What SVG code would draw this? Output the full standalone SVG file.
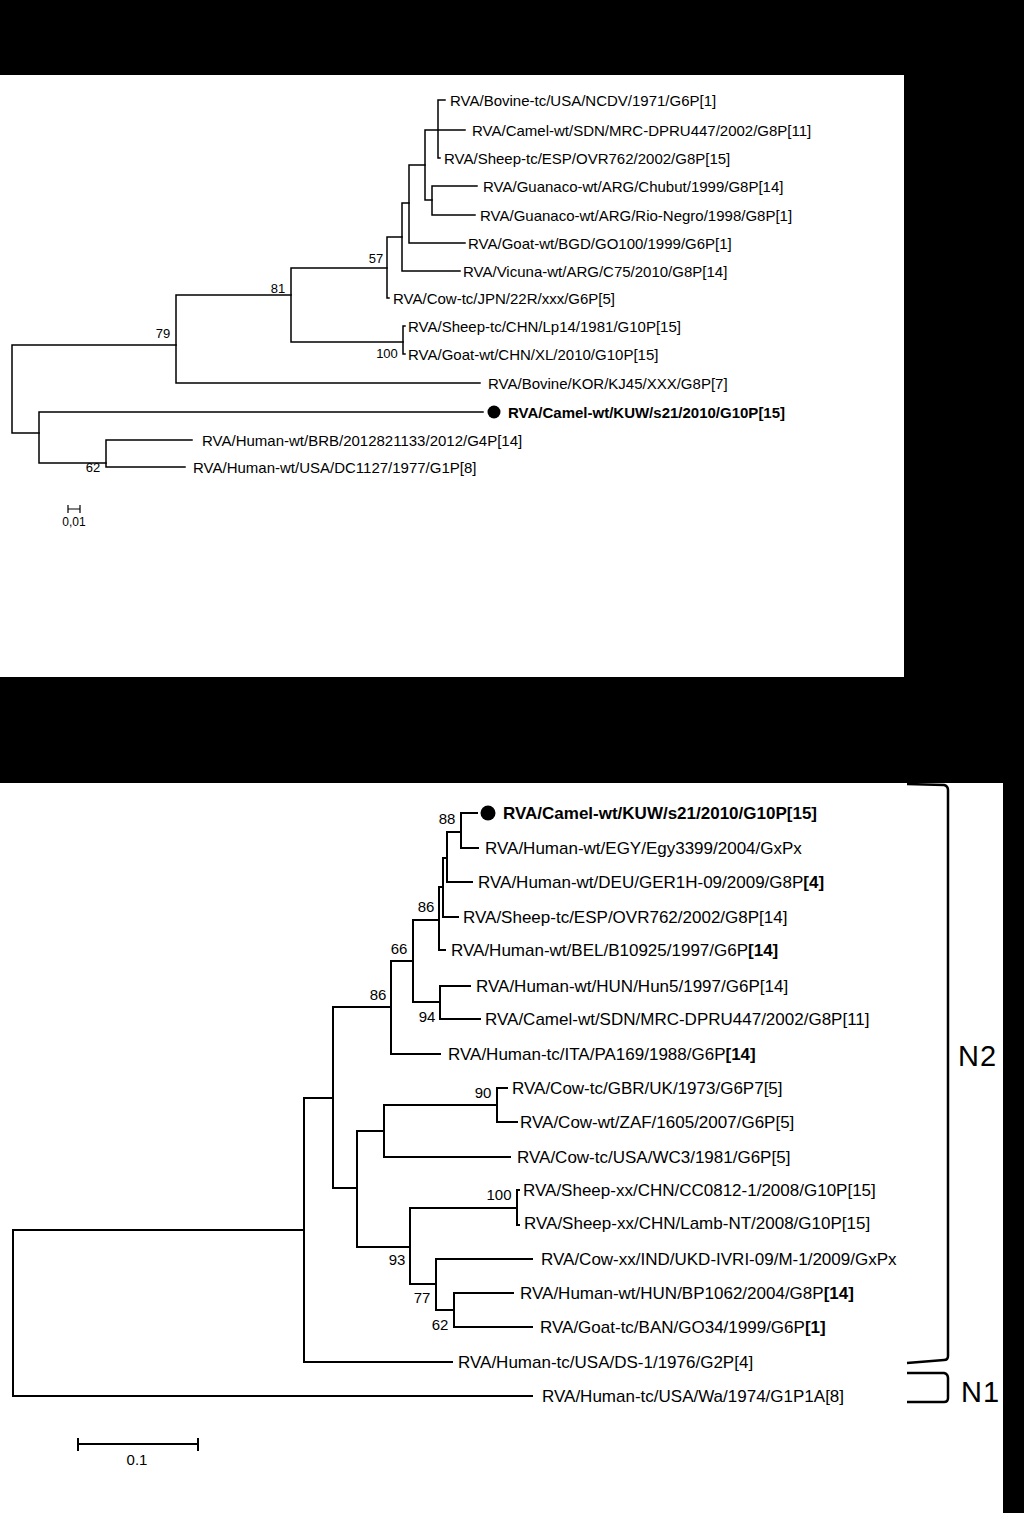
<svg xmlns="http://www.w3.org/2000/svg" width="1024" height="1513" viewBox="0 0 1024 1513">
<style>
.bg{fill:#000}
.panel{fill:#fff}
.e1{stroke:#000;stroke-width:1.5;fill:none;stroke-linecap:square}
.e2{stroke:#000;stroke-width:2;fill:none;stroke-linecap:square}
.br{stroke:#000;stroke-width:2.5;fill:none}
.l15{font-family:"Liberation Sans",Arial,sans-serif;font-size:15px;fill:#000}
.l17{font-family:"Liberation Sans",Arial,sans-serif;font-size:17px;fill:#000}
.b{font-weight:bold}
.s13{font-family:"Liberation Sans Narrow","Liberation Sans",Arial,sans-serif;font-size:13px;fill:#000;text-anchor:middle}
.s15{font-family:"Liberation Sans Narrow","Liberation Sans",Arial,sans-serif;font-size:15px;fill:#000;text-anchor:middle}
.clade{font-family:"Liberation Sans",Arial,sans-serif;font-size:29px;fill:#000;letter-spacing:1px}
</style>
<rect class="bg" x="0" y="0" width="1024" height="1513"/>
<rect class="panel" x="0" y="75" width="904" height="602"/>
<rect class="panel" x="0" y="783" width="1003" height="730"/>

<g id="connectors">
<g id="top-tree-edges">
<path class="e1" d="M12 345 V433 M12 345 H176 M12 433 H39"/>
<path class="e1" d="M176 295 V383 M176 295 H291 M176 383 H480"/>
<path class="e1" d="M291 268 V342 M291 268 H387 M291 342 H403"/>
<path class="e1" d="M387 237 V298 M387 298 H389 M387 237 H402"/>
<path class="e1" d="M402 203 V271 M402 271 H460 M402 203 H409"/>
<path class="e1" d="M409 165 V243 M409 243 H465 M409 165 H425"/>
<path class="e1" d="M425 130 V200 M425 130 H465 M425 200 H432"/>
<path class="e1" d="M438 100 V158 M438 100 H445 M438 158 H440"/>
<path class="e1" d="M432 186 V215 M432 186 H477 M432 215 H475"/>
<path class="e1" d="M403 326 V354 M403 326 H405 M403 354 H405"/>
<path class="e1" d="M39 412 V463 M39 412 H483 M39 463 H106"/>
<path class="e1" d="M106 440 V467 M106 440 H192 M106 467 H185"/>
</g>
<g id="bottom-tree-edges">
<path class="e2" d="M13 1230 V1396 M13 1230 H304 M13 1396 H532"/>
<path class="e2" d="M304 1098 V1362 M304 1362 H452 M304 1098 H333"/>
<path class="e2" d="M333 1007 V1188 M333 1007 H391 M333 1188 H357"/>
<path class="e2" d="M391 961 V1054 M391 1054 H440 M391 961 H413"/>
<path class="e2" d="M413 920 V1002 M413 920 H439 M413 1002 H440"/>
<path class="e2" d="M440 986 V1019 M440 986 H470 M440 1019 H480"/>
<path class="e2" d="M439 887 V950 M439 950 H445 M439 887 H443"/>
<path class="e2" d="M443 858 V917 M443 917 H458 M443 858 H447"/>
<path class="e2" d="M447 832 V882 M447 882 H472 M447 832 H461"/>
<path class="e2" d="M461 813 V848 M461 813 H477 M461 848 H478"/>
<path class="e2" d="M357 1131 V1247 M357 1131 H384 M357 1247 H410"/>
<path class="e2" d="M384 1105 V1157 M384 1157 H510 M384 1105 H497"/>
<path class="e2" d="M497 1088 V1122 M497 1088 H507 M497 1122 H517"/>
<path class="e2" d="M410 1208 V1284 M410 1208 H517 M410 1284 H436"/>
<path class="e2" d="M517 1190 V1225 M517 1190 H519 M517 1225 H519"/>
<path class="e2" d="M436 1259 V1310 M436 1259 H532 M436 1310 H454"/>
<path class="e2" d="M454 1293 V1327 M454 1293 H513 M454 1327 H532"/>
</g>
<g id="clade-brackets">
<path class="br" d="M907 784 L944 785 Q948 786 948 790 V1356 Q948 1360 944 1360 L907 1363"/>
<path class="br" d="M907 1373 L944 1373 Q948 1374 948 1378 V1398 Q948 1402 944 1402 H907"/>
</g>
</g>

<g id="top-tree">
<g id="t-bovine-ncdv"><text class="l15" x="450" y="105.5">RVA/Bovine-tc/USA/NCDV/1971/G6P[1]</text></g>
<g id="t-camel-sdn"><text class="l15" x="472" y="135.5">RVA/Camel-wt/SDN/MRC-DPRU447/2002/G8P[11]</text></g>
<g id="t-sheep-esp"><text class="l15" x="444" y="163.5">RVA/Sheep-tc/ESP/OVR762/2002/G8P[15]</text></g>
<g id="t-guanaco-chubut"><text class="l15" x="483" y="191.5">RVA/Guanaco-wt/ARG/Chubut/1999/G8P[14]</text></g>
<g id="t-guanaco-rio"><text class="l15" x="480" y="220.5">RVA/Guanaco-wt/ARG/Rio-Negro/1998/G8P[1]</text></g>
<g id="t-goat-bgd"><text class="l15" x="468" y="248.5">RVA/Goat-wt/BGD/GO100/1999/G6P[1]</text></g>
<g id="t-vicuna"><text class="l15" x="463" y="276.5">RVA/Vicuna-wt/ARG/C75/2010/G8P[14]</text></g>
<g id="t-cow-jpn"><text class="l15" x="393" y="303.5">RVA/Cow-tc/JPN/22R/xxx/G6P[5]</text></g>
<g id="t-sheep-chn"><text class="l15" x="408" y="331.5">RVA/Sheep-tc/CHN/Lp14/1981/G10P[15]</text></g>
<g id="t-goat-chn"><text class="l15" x="408" y="359.5">RVA/Goat-wt/CHN/XL/2010/G10P[15]</text></g>
<g id="t-bovine-kor"><text class="l15" x="488" y="388.5">RVA/Bovine/KOR/KJ45/XXX/G8P[7]</text></g>
<g id="t-camel-kuw"><circle cx="494" cy="412" r="6.5"/><text class="l15 b" x="508" y="417.5">RVA/Camel-wt/KUW/s21/2010/G10P[15]</text></g>
<g id="t-human-brb"><text class="l15" x="202" y="445.5">RVA/Human-wt/BRB/2012821133/2012/G4P[14]</text></g>
<g id="t-human-usa"><text class="l15" x="193" y="472.5">RVA/Human-wt/USA/DC1127/1977/G1P[8]</text></g>
<g id="t-supports">
<text class="s13" x="376" y="263">57</text>
<text class="s13" x="278" y="293">81</text>
<text class="s13" x="163" y="338">79</text>
<text class="s13" x="387" y="358">100</text>
<text class="s13" x="93" y="472">62</text>
</g>
<g id="t-scale">
<path stroke="#000" stroke-width="1.2" fill="none" d="M68 509 H80 M68 505 V513 M80 505 V513"/>
<text class="s13" x="74" y="526" style="font-size:12px">0,01</text>
</g>
</g>

<g id="bottom-tree">
<g id="b-camel-kuw"><circle cx="488" cy="813" r="7.5"/><text class="l17 b" x="503" y="819">RVA/Camel-wt/KUW/s21/2010/G10P[15]</text></g>
<g id="b-human-egy"><text class="l17" x="485" y="854">RVA/Human-wt/EGY/Egy3399/2004/GxPx</text></g>
<g id="b-human-deu"><text class="l17" x="478" y="888">RVA/Human-wt/DEU/GER1H-09/2009/G8P<tspan class="b">[4]</tspan></text></g>
<g id="b-sheep-esp"><text class="l17" x="463" y="923">RVA/Sheep-tc/ESP/OVR762/2002/G8P[14]</text></g>
<g id="b-human-bel"><text class="l17" x="451" y="956">RVA/Human-wt/BEL/B10925/1997/G6P<tspan class="b">[14]</tspan></text></g>
<g id="b-human-hun5"><text class="l17" x="476" y="992">RVA/Human-wt/HUN/Hun5/1997/G6P[14]</text></g>
<g id="b-camel-sdn"><text class="l17" x="485" y="1025">RVA/Camel-wt/SDN/MRC-DPRU447/2002/G8P[11]</text></g>
<g id="b-human-ita"><text class="l17" x="448" y="1060">RVA/Human-tc/ITA/PA169/1988/G6P<tspan class="b">[14]</tspan></text></g>
<g id="b-cow-gbr"><text class="l17" x="512" y="1094">RVA/Cow-tc/GBR/UK/1973/G6P7[5]</text></g>
<g id="b-cow-zaf"><text class="l17" x="520" y="1128">RVA/Cow-wt/ZAF/1605/2007/G6P[5]</text></g>
<g id="b-cow-usa"><text class="l17" x="517" y="1163">RVA/Cow-tc/USA/WC3/1981/G6P[5]</text></g>
<g id="b-sheep-cc0812"><text class="l17" x="523" y="1196">RVA/Sheep-xx/CHN/CC0812-1/2008/G10P[15]</text></g>
<g id="b-sheep-lamb"><text class="l17" x="524" y="1229">RVA/Sheep-xx/CHN/Lamb-NT/2008/G10P[15]</text></g>
<g id="b-cow-ind"><text class="l17" x="541" y="1265">RVA/Cow-xx/IND/UKD-IVRI-09/M-1/2009/GxPx</text></g>
<g id="b-human-bp1062"><text class="l17" x="520" y="1299">RVA/Human-wt/HUN/BP1062/2004/G8P<tspan class="b">[14]</tspan></text></g>
<g id="b-goat-ban"><text class="l17" x="540" y="1333">RVA/Goat-tc/BAN/GO34/1999/G6P<tspan class="b">[1]</tspan></text></g>
<g id="b-human-ds1"><text class="l17" x="458" y="1368">RVA/Human-tc/USA/DS-1/1976/G2P[4]</text></g>
<g id="b-human-wa"><text class="l17" x="542" y="1402">RVA/Human-tc/USA/Wa/1974/G1P1A[8]</text></g>
<g id="b-supports">
<text class="s15" x="447" y="824">88</text>
<text class="s15" x="426" y="912">86</text>
<text class="s15" x="399" y="954">66</text>
<text class="s15" x="378" y="1000">86</text>
<text class="s15" x="427" y="1022">94</text>
<text class="s15" x="483" y="1098">90</text>
<text class="s15" x="499" y="1200">100</text>
<text class="s15" x="397" y="1265">93</text>
<text class="s15" x="422" y="1303">77</text>
<text class="s15" x="440" y="1330">62</text>
</g>
<g id="b-scale">
<path stroke="#000" stroke-width="2" fill="none" d="M78 1444 H198 M78 1438 V1451 M198 1438 V1451"/>
<text class="s15" x="137" y="1465">0.1</text>
</g>
</g>

<g id="clade-N2"><text class="clade" x="958" y="1066">N2</text></g>
<g id="clade-N1"><text class="clade" x="961" y="1402">N1</text></g>
</svg>
